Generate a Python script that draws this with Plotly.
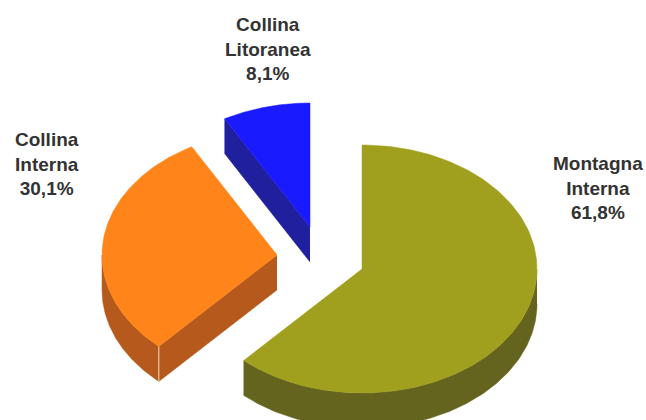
import numpy as np
import plotly.graph_objects as go

categories = ["Montagna<br>Interna", "Collina<br>Interna", "Collina<br>Litoranea"]
shares = [61.8, 30.1, 8.1]
value_labels = ["61,8%", "30,1%", "8,1%"]

top_colors = ["#A0A01E", "#FF841A", "#1A1AFF"]
side_colors = ["#64641E", "#B55A1C", "#20209E"]
centers = [(362, 269), (277, 255), (310, 227)]
label_pos = [(598, 188), (47, 164), (268, 49)]
RX, RY, DEPTH = 175, 124, 35
FONT = "Liberation Sans, Arial, sans-serif"


def arc(cx, cy, a0, a1, dy=0):
    t = np.radians(np.linspace(a0, a1, 160))
    return cx + RX * np.sin(t), cy - RY * np.cos(t) + dy


def poly(fig, x, y, color):
    fig.add_trace(go.Scatter(x=list(x), y=list(y), mode="lines", fill="toself",
                             fillcolor=color, line=dict(color=color, width=0.5),
                             hoverinfo="skip", showlegend=False))


fig = go.Figure()
edges = np.concatenate([[0], np.cumsum(shares) / np.sum(shares) * 360])

for i, cat in enumerate(categories):
    a0, a1 = edges[i], edges[i + 1]
    cx, cy = centers[i]
    # outer rim: only the part of the arc facing the viewer (90..270 degrees)
    lo, hi = max(a0, 90), min(a1, 270)
    if hi > lo:
        xt, yt = arc(cx, cy, lo, hi)
        xb, yb = arc(cx, cy, lo, hi, DEPTH)
        poly(fig, np.r_[xt, xb[::-1]], np.r_[yt, yb[::-1]], side_colors[i])
    # radial cut face on the slice's starting edge, visible on the left half
    if 180 < a0 < 360:
        xe, ye = arc(cx, cy, a0, a0)
        poly(fig, [cx, xe[0], xe[0], cx],
             [cy, ye[0], ye[0] + DEPTH, cy + DEPTH], side_colors[i])
        if i == 1:
            fig.add_trace(go.Scatter(x=[xe[0], xe[0]], y=[ye[0], ye[0] + DEPTH],
                                     mode="lines", line=dict(color="#F6D9B8", width=1),
                                     hoverinfo="skip", showlegend=False))
    # top face
    xa, ya = arc(cx, cy, a0, a1)
    poly(fig, np.r_[cx, xa, cx], np.r_[cy, ya, cy], top_colors[i])

for i, cat in enumerate(categories):
    fig.add_annotation(x=label_pos[i][0], y=label_pos[i][1], xref="x", yref="y",
                       text=f"<b>{cat}<br>{value_labels[i]}</b>", showarrow=False,
                       align="center", xanchor="center", yanchor="middle",
                       font=dict(family=FONT, size=19, color="#333333"))

fig.update_layout(
    width=646, height=420, margin=dict(l=0, r=0, t=0, b=0),
    paper_bgcolor="white", plot_bgcolor="white", showlegend=False,
    xaxis=dict(range=[0, 646], visible=False, fixedrange=True),
    yaxis=dict(range=[420, 0], visible=False, fixedrange=True),
)
fig.write_html("out.html", config={"displayModeBar": False},
               post_script="document.body.style.margin='0';")
